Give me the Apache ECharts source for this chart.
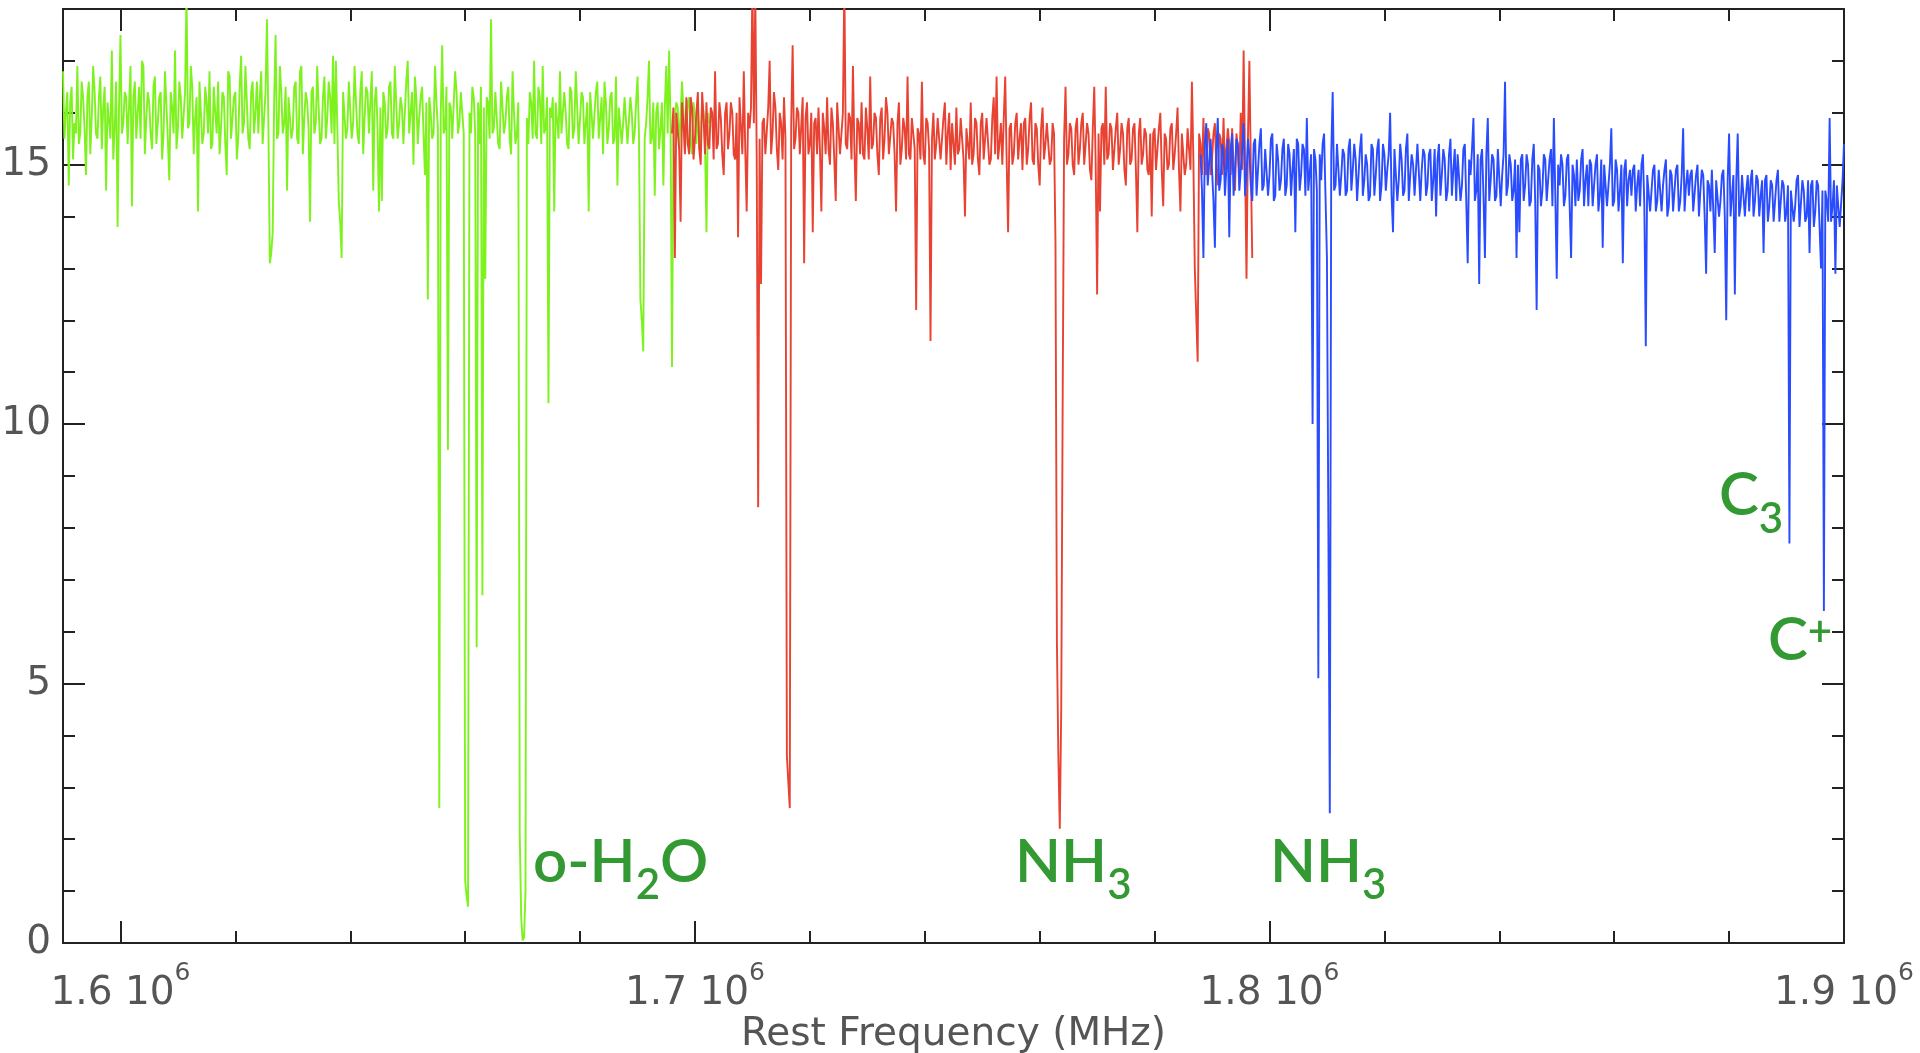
<!DOCTYPE html>
<html><head><meta charset="utf-8">
<script src="https://cdn.jsdelivr.net/npm/echarts@6/dist/echarts.min.js"></script>
<style>html,body{margin:0;padding:0;background:#fff}#chart{width:1920px;height:1053px}</style>
</head><body><div id="chart"></div>
<script>
// spectral channel grid (MHz)
const channelStep = 250;
const greenStart = 1590000;
const greenValues = [
16.8,15.5,16.0,16.4,14.6,16.2,16.5,15.1,15.8,15.6,16.9,15.4,15.6,16.6,16.3,15.7,14.8,16.3,16.6,15.2,
15.9,16.9,16.4,15.6,15.5,16.3,16.7,15.3,16.1,16.5,14.5,16.2,16.2,15.5,17.2,15.1,15.7,16.6,13.8,16.1,
17.5,15.6,15.8,16.4,16.3,15.4,15.4,16.9,14.2,16.3,16.6,15.5,16.0,16.5,15.5,17.0,16.9,15.2,15.9,16.4,
16.2,15.6,15.3,16.5,16.7,15.4,15.8,16.3,16.4,15.1,15.6,16.8,16.8,15.5,14.7,16.4,16.1,15.6,17.2,15.3,
15.7,16.6,16.3,15.5,15.5,16.4,18.3,15.7,15.8,16.9,16.5,15.2,15.9,16.3,14.1,16.6,16.6,15.4,15.6,16.5,
16.2,15.6,16.8,15.3,15.4,16.5,16.0,15.6,16.6,15.2,15.7,16.4,16.3,15.4,14.8,16.8,16.7,15.5,15.9,16.3,
16.4,15.1,15.5,16.5,17.1,15.6,15.8,16.9,16.2,15.5,15.3,16.4,16.6,15.6,16.0,16.6,15.6,16.3,16.8,15.4,
15.9,16.4,17.8,15.8,13.1,13.3,13.7,16.2,17.5,15.5,15.6,16.9,16.4,15.6,15.8,16.5,14.5,16.3,16.3,15.5,
15.7,16.5,16.6,15.5,15.4,16.8,16.9,15.2,15.9,16.4,16.2,15.7,13.9,16.4,16.5,15.6,15.8,16.9,16.1,15.4,
15.5,16.3,16.7,15.5,15.9,16.6,16.3,15.6,17.1,15.4,17.0,15.7,14.3,13.9,13.2,16.4,16.4,15.5,15.7,16.6,
16.6,15.5,15.8,16.9,16.2,15.6,15.4,16.4,16.8,15.2,15.9,16.5,16.4,15.6,15.6,16.8,14.5,16.2,16.5,15.7,
14.1,16.1,14.3,16.4,16.2,15.5,15.7,16.5,16.6,15.6,15.5,16.9,16.9,15.5,15.8,16.3,16.1,15.4,15.4,16.6,
17.0,15.6,15.6,16.4,15.0,16.7,16.3,15.4,15.9,16.3,16.5,15.6,14.8,16.2,12.4,16.3,16.0,15.5,15.6,16.9,
16.2,15.7,2.6,16.0,17.3,15.6,15.7,16.5,9.5,16.2,16.1,15.5,15.5,16.8,16.4,15.6,15.8,16.4,16.0,15.6,
1.2,0.9,0.7,16.0,15.6,16.5,16.3,15.6,5.7,16.2,15.4,16.5,6.7,16.1,12.8,16.3,16.2,15.5,17.8,15.6,
15.7,16.4,16.4,15.4,15.3,16.6,16.1,15.6,15.8,16.3,16.5,15.5,15.2,16.8,16.0,15.4,15.6,16.2,2.1,0.5,
0.05,0.1,1.0,15.9,15.4,16.4,16.2,15.5,17.0,15.6,15.5,16.5,16.3,15.4,16.9,15.6,15.7,16.3,10.4,16.1,
15.9,16.3,14.1,16.2,16.2,15.5,16.8,15.6,15.6,16.4,16.0,15.4,15.3,16.5,16.4,15.5,15.7,16.8,16.1,15.4,
15.4,16.4,16.3,15.4,15.8,16.2,14.1,16.4,16.0,15.5,15.5,16.4,16.6,15.5,15.9,16.3,15.2,16.6,16.2,15.4,
15.7,16.3,16.4,15.4,15.5,16.7,14.6,16.1,16.1,15.4,15.8,16.3,16.3,15.4,15.4,16.3,16.0,15.4,15.6,16.2,
16.7,15.6,12.4,12.0,11.4,15.5,15.8,16.3,17.0,15.4,15.5,16.2,14.4,16.0,16.2,15.3,15.7,16.2,14.6,16.1,
16.9,15.6,17.2,15.8,11.1,15.6,15.6,16.2,16.1,15.3,15.3,16.6,16.0,15.3,15.7,16.2,16.3,15.4,15.2,16.2,
15.9,15.4,16.2,15.3,15.5,16.2,16.0,15.4,13.7,16.0,15.8
];
const redStart = 1696000;
const redValues = [
15.6,16.1,13.2,16.0,16.0,15.3,13.9,16.2,15.8,15.2,16.3,15.4,15.2,16.3,16.1,15.1,15.5,16.0,16.4,15.3,
15.0,16.4,15.9,15.2,16.2,15.4,15.3,16.1,16.0,15.1,16.8,15.3,15.4,16.2,15.9,15.2,14.8,16.0,16.2,15.3,
15.6,16.2,16.0,15.2,15.1,16.0,13.6,16.3,16.3,15.2,16.8,15.3,14.1,16.0,15.7,16.1,18.5,15.8,18.3,15.1,
8.4,15.5,12.7,15.8,15.9,15.2,15.2,16.1,17.0,15.2,15.6,16.4,16.1,15.3,14.9,16.0,15.8,15.1,16.3,15.5,
3.6,3.1,2.6,15.8,17.3,15.3,15.5,16.1,16.0,15.2,15.2,16.3,13.1,15.9,16.2,15.2,15.4,16.0,13.7,15.8,
15.9,15.2,16.1,15.3,14.1,16.0,15.7,15.2,16.3,15.3,15.0,16.1,15.8,15.1,14.3,16.2,16.2,15.2,15.6,16.0,
18.5,15.4,15.3,16.0,15.9,15.1,16.9,15.3,14.3,15.9,15.8,15.2,16.2,15.2,15.1,16.1,15.7,15.1,16.7,15.3,
15.4,16.0,15.9,15.2,14.8,15.9,16.1,15.1,15.5,16.3,16.0,15.2,15.2,15.9,15.8,15.2,14.1,15.8,16.2,15.0,
15.3,15.9,15.7,15.1,16.7,15.2,15.1,15.9,15.9,15.3,12.2,15.7,15.6,15.1,16.6,15.2,15.0,15.9,15.8,15.3,
11.6,15.5,16.0,15.1,15.4,15.9,15.9,15.1,15.1,15.9,16.2,15.0,15.6,16.0,14.9,15.8,15.8,15.0,16.1,15.2,
15.3,15.9,15.9,15.1,14.0,15.7,15.7,15.1,16.2,15.0,15.2,15.9,15.8,15.1,14.8,15.8,16.0,15.1,15.5,15.9,
15.9,15.0,15.1,15.9,16.3,15.2,16.7,15.1,15.4,15.8,15.0,15.9,16.7,15.1,13.7,15.7,15.8,15.0,15.2,15.8,
16.0,15.1,15.5,15.8,14.9,15.8,15.9,15.0,15.3,15.9,16.2,15.1,15.0,15.8,15.7,15.0,14.6,15.7,16.1,15.1,
15.4,15.8,15.8,15.0,15.1,15.8,15.6,13.5,5.8,3.6,2.2,4.5,10.4,15.5,16.5,15.0,15.2,15.8,15.7,15.0,
14.8,15.7,15.9,15.0,15.3,15.8,16.0,15.0,15.0,15.8,15.6,14.9,14.7,15.7,16.5,15.0,12.5,15.6,14.1,15.7,
15.8,15.0,16.5,15.1,15.2,15.8,15.7,14.9,14.9,15.7,16.0,15.0,15.3,15.8,15.6,14.9,14.6,15.7,15.9,15.0,
15.1,15.7,15.8,14.9,13.7,15.6,15.9,15.0,15.2,15.7,15.6,14.9,14.8,15.6,14.0,15.6,15.7,14.9,15.3,15.7,
16.0,14.9,14.2,15.6,15.5,14.9,15.0,15.7,15.8,14.9,15.2,15.6,16.1,14.9,14.1,15.6,15.6,14.8,15.0,15.7,
15.7,14.9,16.6,15.1,13.0,12.1,11.2,15.6,15.4,14.8,15.9,14.9,14.8,15.7,15.6,14.8,15.1,15.6,15.8,14.9,
14.6,15.6,15.5,14.8,15.9,14.9,14.9,15.7,15.4,14.8,15.7,14.9,14.5,15.6,15.3,14.8,16.0,14.9,17.2,15.0,
12.8,15.5,17.0,15.0,13.2
];
const blueStart = 1788000;
const blueValues = [
15.2,14.5,13.2,15.4,15.8,14.6,14.6,15.5,15.5,14.3,13.4,15.3,15.9,14.5,14.7,15.4,15.3,14.4,14.4,15.5,
13.6,15.3,15.6,14.4,14.9,15.5,15.4,14.5,14.5,15.3,15.8,14.4,14.8,15.5,15.2,14.6,14.3,15.4,15.5,14.4,
14.9,15.4,15.7,14.5,14.6,15.3,15.3,14.4,14.8,15.5,15.6,14.3,14.4,15.4,15.1,14.5,14.7,15.3,15.5,14.4,
14.6,15.4,15.2,14.4,14.9,15.3,13.7,15.5,15.4,14.5,14.8,15.4,15.3,14.4,15.9,14.5,14.5,15.2,10.0,15.3,
15.1,14.5,5.1,15.2,14.7,15.4,15.6,14.4,13.2,8.0,2.5,15.2,16.4,14.5,14.6,15.4,15.4,14.4,14.8,15.3,
15.2,14.4,14.5,15.3,15.5,14.5,14.9,15.4,15.1,14.3,14.3,15.3,15.6,14.4,14.7,15.2,15.0,14.3,14.4,15.4,
15.3,14.4,14.8,15.3,15.5,14.3,14.6,15.4,15.2,14.5,14.9,15.2,16.0,14.4,13.7,15.3,15.3,14.3,14.7,15.4,
15.1,14.4,14.5,15.3,15.6,14.3,14.8,15.2,15.0,14.4,14.4,15.4,15.4,14.3,14.9,15.3,15.2,14.4,14.6,15.2,
15.3,14.3,14.7,15.3,14.0,15.1,15.4,14.4,14.8,15.3,15.1,14.3,14.5,15.2,15.5,14.4,14.9,15.3,14.3,15.2,
15.2,14.3,14.6,15.3,15.4,14.3,13.1,15.1,14.8,15.3,15.9,14.3,14.5,15.2,12.7,15.1,15.3,14.4,13.2,15.2,
15.9,14.3,14.7,15.2,15.1,14.3,14.4,15.3,15.3,14.2,14.8,15.2,16.6,14.4,14.6,15.2,15.0,14.3,14.5,15.1,
13.2,15.0,13.7,15.1,15.2,14.3,14.6,15.2,15.0,14.2,14.3,15.1,15.4,14.3,12.2,15.0,14.9,14.2,14.5,15.2,
15.1,14.3,14.7,15.1,15.3,14.2,15.9,14.4,12.8,15.0,14.6,15.2,15.0,14.2,14.4,15.1,15.2,14.2,13.2,15.0,
14.8,14.2,15.1,14.3,14.5,15.1,15.3,14.2,14.7,15.0,14.2,15.1,15.0,14.2,14.6,15.0,15.2,14.1,14.4,15.1,
13.4,15.0,15.0,14.2,14.6,15.0,15.7,14.2,14.3,15.1,14.9,14.1,14.5,15.0,13.1,14.9,15.1,14.2,14.7,14.9,
14.4,14.9,15.0,14.1,14.6,14.9,14.2,15.0,15.2,14.2,11.5,14.8,14.8,14.1,14.5,14.9,15.0,14.1,14.3,14.9,
14.9,14.1,14.6,14.9,15.1,14.0,14.2,14.9,14.8,14.1,14.5,14.9,15.0,14.1,14.3,14.8,15.7,14.1,14.6,14.9,
14.4,14.8,14.9,14.1,14.1,14.8,15.0,14.0,14.5,14.9,14.8,14.0,12.9,14.7,14.6,14.1,14.9,14.1,13.3,14.7,
14.7,14.0,14.3,14.8,14.9,14.0,12.0,14.7,15.6,14.0,14.4,14.8,12.5,14.7,15.6,14.0,14.2,14.8,14.8,14.0,
14.5,14.8,14.1,14.7,14.9,14.0,14.3,14.8,14.7,14.0,14.4,14.7,13.3,14.7,14.8,13.9,14.2,14.7,14.6,13.9,
14.3,14.7,14.9,13.9,13.9,14.7,14.6,13.9,14.1,14.6,7.7,14.5,14.5,13.9,14.2,14.7,14.8,13.8,13.8,14.7,
14.5,13.9,14.0,14.7,13.3,14.6,14.7,13.8,14.1,14.7,14.6,13.8,13.0,14.5,6.4,14.5,14.3,13.9,15.9,13.9,
14.2,14.7,12.9,14.6,14.6,13.8,13.8,14.7,15.4
];

// axis ticks
const xMin = 1590000, xMax = 1900000;
const xMajorTicks = [1600000, 1700000, 1800000, 1900000];
const xMinorTicks = [1620000,1640000,1660000,1680000,1720000,1740000,1760000,1780000,1820000,1840000,1860000,1880000];
const yMin = 0, yMax = 18;
const yMajorTicks = [0, 5, 10, 15];
const yMinorTicks = [1,2,3,4,6,7,8,9,11,12,13,14,16,17];
const xAxisName = 'Rest Frequency (MHz)';

// line identifications
const annotationMain = ['o-H', 'NH', 'NH', 'C', 'C'];
const annotationSub  = ['2', '3', '3', '3', ''];
const annotationTail = ['O', '', '', '', ''];
const annotationSup  = ['', '', '', '', '+'];
const annotationFreq = [1671810, 1755710, 1800090, 1878240, 1886770];
const annotationLevel = [1.41, 1.41, 1.41, 8.48, 5.82];

const colors = { green: '#7ef21e', red: '#e84332', blue: '#2a4cff' };
const axisFont = 'DejaVu Sans';
const axisTextColor = '#555555';
const annFont = 'Lato';
const annColor = '#008000';

const toPairs = (start, vals) => vals.map((v, i) => [start + i * channelStep, v]);

const chart = echarts.init(document.getElementById('chart'), null, { renderer: 'canvas' });

const lineAxisStyle = { show: true, onZero: false, lineStyle: { color: '#222', width: 2 } };
function xAx(pos, ticks, len, showLine, withLabels) {
  const ax = {
    type: 'value', position: pos, min: xMin, max: xMax,
    axisLine: showLine ? lineAxisStyle : { show: false, onZero: false },
    axisTick: { show: true, inside: true, length: len, customValues: ticks, lineStyle: { color: '#222', width: 2 } },
    axisLabel: { show: false },
    splitLine: { show: false }
  };
  if (withLabels) {
    ax.axisLabel = {
      show: true, customValues: xMajorTicks, margin: 18,
      formatter: v => '{b|' + (v / 1e6).toFixed(1) + ' 10}{s|6}',
      rich: {
        b: { fontSize: 39, lineHeight: 52, verticalAlign: 'bottom', fontFamily: axisFont, color: axisTextColor },
        s: { fontSize: 25, lineHeight: 25, verticalAlign: 'top', fontFamily: axisFont, color: axisTextColor }
      }
    };
    ax.name = xAxisName;
    ax.nameLocation = 'middle';
    ax.nameGap = 72;
    ax.nameMoveOverlap = false;
    ax.nameTextStyle = { fontSize: 39, fontFamily: axisFont, color: axisTextColor };
  }
  return ax;
}
function yAx(pos, ticks, len, showLine, withLabels) {
  const ax = {
    type: 'value', position: pos, min: yMin, max: yMax,
    axisLine: showLine ? lineAxisStyle : { show: false, onZero: false },
    axisTick: { show: true, inside: true, length: len, customValues: ticks, lineStyle: { color: '#222', width: 2 } },
    axisLabel: { show: false },
    splitLine: { show: false }
  };
  if (withLabels) {
    ax.axisLabel = { show: true, customValues: yMajorTicks, margin: 12, fontSize: 39, fontFamily: axisFont, color: axisTextColor };
  }
  return ax;
}

const annData = annotationFreq.map((f, i) => [f, annotationLevel[i]]);
const lineW = 1.9;

const option = {
  animation: false,
  backgroundColor: '#fff',
  grid: { left: 63, right: 76, top: 9, bottom: 110, containLabel: false, outerBoundsMode: 'none' },
  // positions flip when a side is already used: result bottom, top, top, bottom
  xAxis: [
    xAx('bottom', xMajorTicks, 22, true, true),
    xAx('top', xMajorTicks, 22, true, false),
    xAx('bottom', xMinorTicks, 12, false, false),
    xAx('top', xMinorTicks, 12, false, false)
  ],
  yAxis: [
    yAx('left', yMajorTicks, 22, true, true),
    yAx('right', yMajorTicks, 22, true, false),
    yAx('left', yMinorTicks, 12, false, false),
    yAx('right', yMinorTicks, 12, false, false)
  ],
  series: [
    { type: 'line', name: 'green', data: toPairs(greenStart, greenValues), showSymbol: false, symbol: 'none',
      lineStyle: { color: colors.green, width: lineW, join: 'miter', miterLimit: 2 }, itemStyle: { color: colors.green }, silent: true },
    { type: 'line', name: 'red', data: toPairs(redStart, redValues), showSymbol: false, symbol: 'none',
      lineStyle: { color: colors.red, width: lineW, join: 'miter', miterLimit: 2 }, itemStyle: { color: colors.red }, silent: true },
    { type: 'line', name: 'blue', data: toPairs(blueStart, blueValues), showSymbol: false, symbol: 'none',
      lineStyle: { color: colors.blue, width: lineW, join: 'miter', miterLimit: 2 }, itemStyle: { color: colors.blue }, silent: true },
    { type: 'scatter', name: 'labels', data: annData, symbolSize: 0, silent: true, z: 10,
      label: {
        show: true, position: 'right', distance: 0, align: 'left', verticalAlign: 'middle',
        formatter: p => {
          const i = p.dataIndex;
          let s = '{m|' + annotationMain[i] + '}';
          if (annotationSub[i]) s += '{sub|' + annotationSub[i] + '}';
          if (annotationSup[i]) s += '{sup|' + annotationSup[i] + '}';
          if (annotationTail[i]) s += '{m|' + annotationTail[i] + '}';
          return s;
        },
        rich: {
          m: { fontSize: 60, lineHeight: 60, verticalAlign: 'top', fontFamily: annFont, fontWeight: 600, color: annColor },
          sub: { fontSize: 42, lineHeight: 74, verticalAlign: 'bottom', fontFamily: annFont, fontWeight: 600, color: annColor },
          sup: { fontSize: 42, lineHeight: 42, verticalAlign: 'top', fontFamily: annFont, fontWeight: 600, color: annColor }
        }
      }
    }
  ]
};
chart.setOption(option);
</script>
</body></html>
